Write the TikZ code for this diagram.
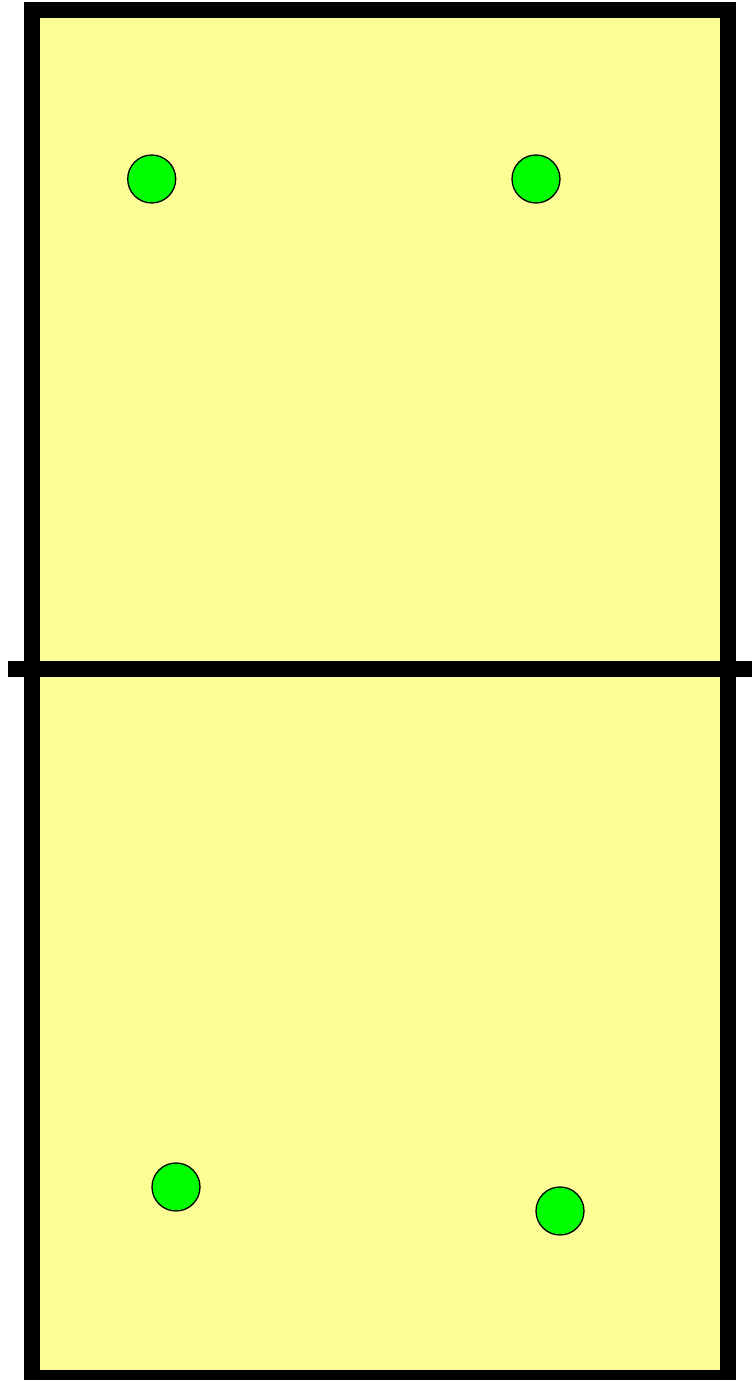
\documentclass[tikz,border=0pt]{standalone}
\definecolor{court}{HTML}{FDFD96}
\definecolor{dotgreen}{HTML}{00FF00}
\begin{document}
\begin{tikzpicture}[x=1pt,y=-1pt,
  player/.style={circle,draw=black,fill=dotgreen,line width=1.3pt,minimum size=48pt,inner sep=0pt}]
\useasboundingbox (0,0) rectangle (752,1380);
\begin{scope}
\clip (0,0) rectangle (752,1380);
\draw[fill=court,line width=16pt,miter limit=10] (32,10) rectangle (727.5,1378);
\coordinate (netL) at (8,669);
\coordinate (netR) at (752,669);
\draw[line width=16pt] (netL) -- (netR);
\end{scope}
\node[player] (p1) at (151.7,179) {};
\node[player] (p2) at (536,179) {};
\node[player] (p3) at (176,1187) {};
\node[player] (p4) at (560,1211) {};
\end{tikzpicture}
\end{document}
